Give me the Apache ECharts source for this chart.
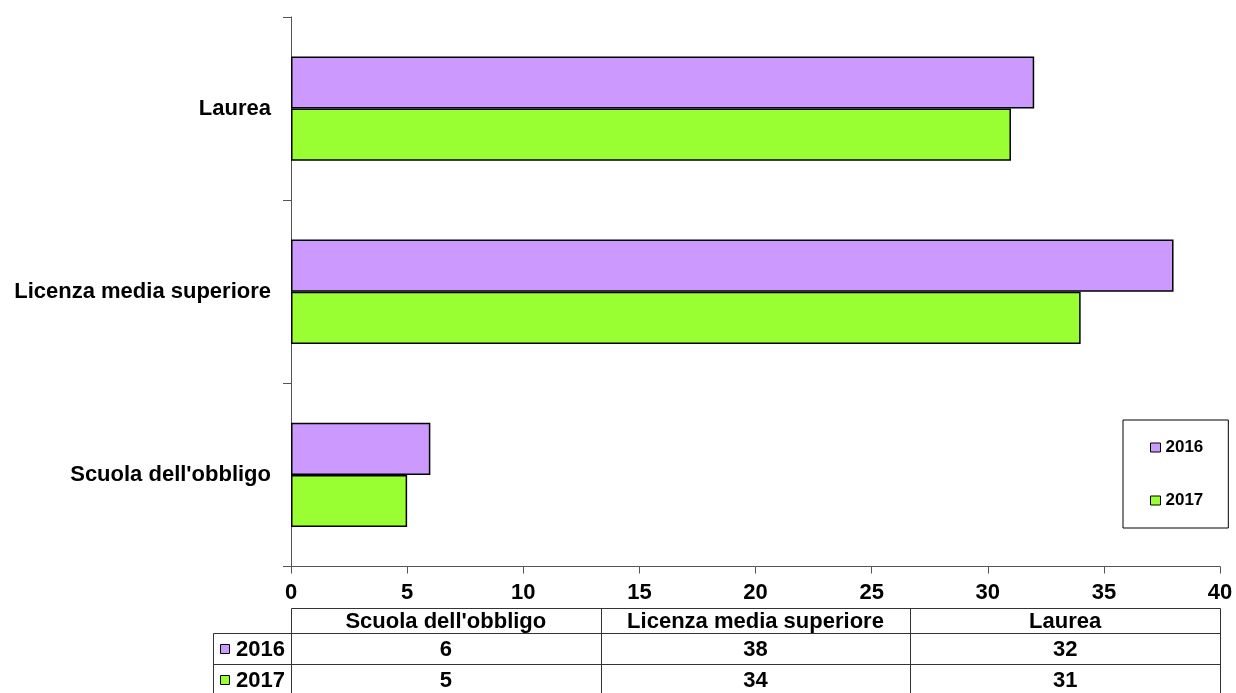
<!DOCTYPE html>
<html>
<head>
<meta charset="utf-8">
<script src="https://cdn.jsdelivr.net/npm/echarts@6/dist/echarts.min.js"></script>
<style>
  html, body { margin: 0; padding: 0; background: #fff; }
  #chart { width: 1236px; height: 693px; }
</style>
</head>
<body>
<div id="chart"></div>
<script>
// ---- data ----
const categories = ["Scuola dell'obbligo", "Licenza media superiore", "Laurea"];
const seriesNames = ["2016", "2017"];
const values2016 = [6, 38, 32];
const values2017 = [5, 34, 31];
const xMin = 0, xMax = 40, xStep = 5;

// ---- styles / layout ----
const colors = ["#CC99FF", "#99FF33"];
const FONT = "'Liberation Sans', Arial, sans-serif";
const FS = 22;
const gridLeft = 291, gridRight = 1220, gridTop = 17, gridBottom = 566.5;
const W = 1236, H = 693;
const tableTop = 608.5, rowLines = [633.5, 664.5, 695.5], labelLeft = 213.5;
const lineColor = "#333";

const chart = echarts.init(document.getElementById('chart'), null, { renderer: 'canvas' });

const graphic = [];
function hline(x1, x2, y) {
  graphic.push({ type: 'line', shape: { x1, y1: y, x2, y2: y }, style: { stroke: lineColor, lineWidth: 1 }, silent: true });
}
function vline(x, y1, y2) {
  graphic.push({ type: 'line', shape: { x1: x, y1, x2: x, y2 }, style: { stroke: lineColor, lineWidth: 1 }, silent: true });
}
function text(x, y, str, align) {
  graphic.push({
    type: 'text', x, y, silent: true,
    style: { text: str, font: "bold " + FS + "px " + FONT, fill: '#000', align: align || 'center', verticalAlign: 'middle' }
  });
}
const tL = gridLeft + 0.5, tR = gridRight + 0.5;
hline(tL, tR, tableTop);
rowLines.forEach(y => hline(labelLeft, tR, y));
const colW = (gridRight - gridLeft) / categories.length;
for (let i = 0; i <= categories.length; i++) {
  vline(Math.round(gridLeft + i * colW) + 0.5, tableTop, H + 2);
}
vline(labelLeft, rowLines[0], H + 2);
// header
categories.forEach((c, i) => text(gridLeft + (i + 0.5) * colW, (tableTop + rowLines[0]) / 2 + 0.5, c));
// rows
const rowVals = [values2016, values2017];
seriesNames.forEach((name, r) => {
  const cy = (rowLines[r] + rowLines[r + 1]) / 2;
  graphic.push({ type: 'rect', shape: { x: 220.5, y: Math.round(cy) - 4.5, width: 9, height: 9 },
    style: { fill: colors[r], stroke: '#000', lineWidth: 1 }, silent: true });
  text(236, cy + 0.5, name, 'left');
  rowVals[r].forEach((v, i) => text(gridLeft + (i + 0.5) * colW, cy + 0.5, String(v)));
});

const option = {
  animation: false,
  backgroundColor: '#fff',
  grid: { left: gridLeft, right: W - gridRight, top: gridTop, bottom: H - gridBottom, containLabel: false },
  legend: {
    show: true,
    orient: 'vertical',
    left: 1123, top: 420,
    padding: [19, 25, 19, 27],
    itemGap: 36,
    itemWidth: 10, itemHeight: 9,
    icon: 'rect',
    borderColor: '#000', borderWidth: 1,
    backgroundColor: '#fff',
    itemStyle: { borderColor: '#000', borderWidth: 1 },
    textStyle: { fontFamily: FONT, fontWeight: 'bold', fontSize: 17, color: '#000', lineHeight: 17 },
    data: seriesNames
  },
  xAxis: {
    type: 'value', min: xMin, max: xMax, interval: xStep,
    axisLine: { show: true, lineStyle: { color: '#555', width: 1 } },
    axisTick: { show: true, inside: false, length: 7, lineStyle: { color: '#555' } },
    splitLine: { show: false },
    axisLabel: { margin: 15, fontFamily: FONT, fontWeight: 'bold', fontSize: FS, color: '#000' }
  },
  yAxis: {
    type: 'category', data: categories,
    axisLine: { show: true, lineStyle: { color: '#555', width: 1 } },
    axisTick: { show: true, inside: false, length: 8, alignWithLabel: false, lineStyle: { color: '#555' } },
    splitLine: { show: false },
    axisLabel: { margin: 20, fontFamily: FONT, fontWeight: 'bold', fontSize: FS, color: '#000' }
  },
  series: [
    { name: seriesNames[0], type: 'bar', data: values2016, barGap: '0%', barCategoryGap: '43%',
      itemStyle: { color: colors[0], borderColor: '#000', borderWidth: 1.5 } },
    { name: seriesNames[1], type: 'bar', data: values2017, barGap: '0%', barCategoryGap: '43%',
      itemStyle: { color: colors[1], borderColor: '#000', borderWidth: 1.5 } }
  ],
  graphic: graphic
};
chart.setOption(option);
</script>
</body>
</html>
